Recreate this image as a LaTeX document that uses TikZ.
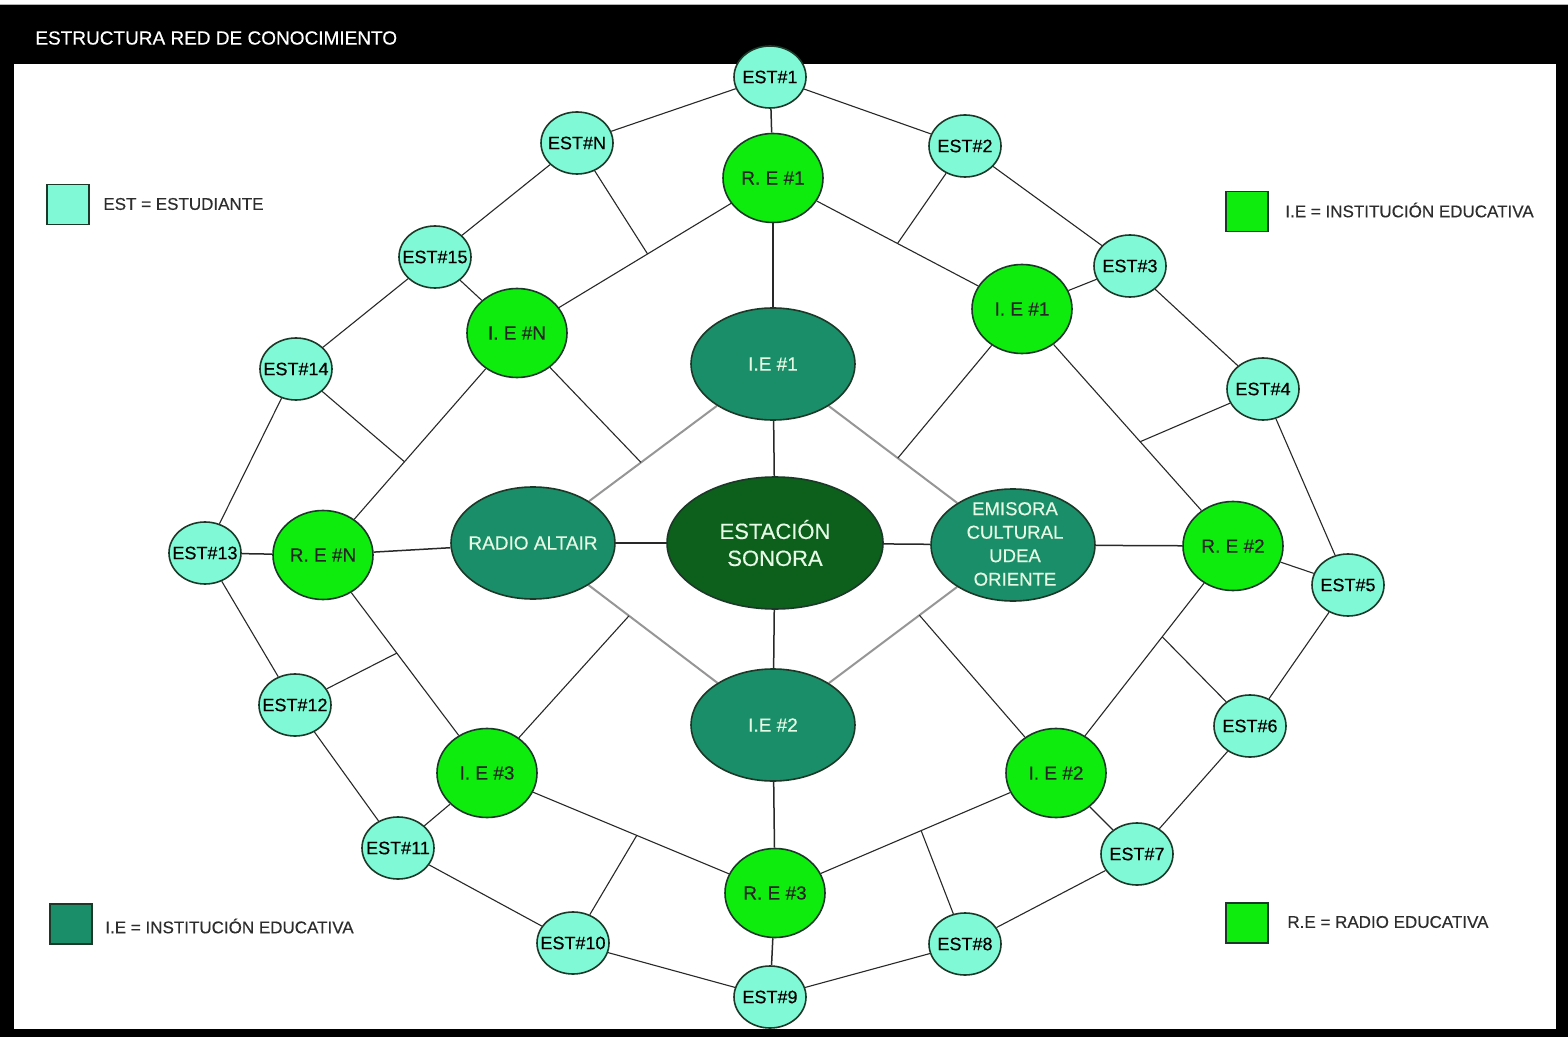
\documentclass[tikz,border=0pt]{standalone}
\usepackage{fontspec}
\setmainfont{Liberation Sans}
\newfontfamily\semib[FakeBold=0.35]{Liberation Sans}
\usetikzlibrary{shapes.geometric,calc}
\definecolor{estc}{RGB}{128,250,214}
\definecolor{grc}{RGB}{14,236,14}
\definecolor{tlc}{RGB}{26,142,104}
\definecolor{dkc}{RGB}{12,96,28}
\definecolor{bdc}{RGB}{28,56,40}
\definecolor{ctx}{RGB}{230,250,230}
\definecolor{lgt}{RGB}{45,45,45}
\definecolor{gline}{RGB}{150,150,150}
\definecolor{kline}{RGB}{40,40,40}
\newcommand\zw[1]{\makebox[0pt]{#1}}
\pgfdeclarelayer{backlayer}
\pgfdeclarelayer{edgelayer}
\pgfsetlayers{backlayer,edgelayer,main}
\begin{document}
\begin{tikzpicture}[x=0.5pt,y=-0.5pt,
  estnode/.style={ellipse,draw=bdc,line width=0.8pt,fill=estc,minimum width=36pt,minimum height=31pt,inner sep=0pt,font=\semib\fontsize{9}{10}\selectfont,text=black},
  grnode/.style={ellipse,draw=bdc,line width=0.8pt,fill=grc,minimum width=50pt,minimum height=44.5pt,inner sep=0pt,font=\semib\fontsize{9.5}{11}\selectfont,text=black!85},
  tlnode/.style={ellipse,draw=bdc,line width=0.8pt,fill=tlc,minimum width=82pt,minimum height=56pt,inner sep=0pt,font=\semib\fontsize{9.5}{11}\selectfont,text=ctx},
  cenode/.style={ellipse,draw=bdc,line width=0.8pt,fill=dkc,minimum width=108pt,minimum height=66pt,inner sep=0pt},
  ctext/.style={align=center,inner sep=0pt,text=ctx},
  legsq/.style={rectangle,draw=bdc,line width=0.8pt,minimum width=21pt,minimum height=20pt,inner sep=0pt},
  legtx/.style={anchor=west,inner sep=0pt,text=lgt,font=\semib\fontsize{8.5}{10}\selectfont},
  thinl/.style={draw=kline,line width=0.55pt},
  spokel/.style={draw=kline,line width=0.75pt},
  greyl/.style={draw=gline,line width=1pt}]
\useasboundingbox (0,0) rectangle (1568,1037);
\begin{pgfonlayer}{backlayer}
  \fill[white] (0,0) rectangle (1568,1037);
  \fill[black] (0,5) rectangle (1568,1037);
  \draw[gray!60,line width=0.5pt] (0,4.5) -- (1568,4.5);
  \fill[white] (14,64) rectangle (1556,1029);
\end{pgfonlayer}
\node[anchor=west,inner sep=0pt,text=white,font=\semib\fontsize{9.5}{11}\selectfont] (title) at (35,38) {ESTRUCTURA RED DE CONOCIMIENTO};
% legends
\node[legsq,fill=estc] (lg1) at (68,204.5) {};
\node[legtx] (lg1t) at (103,204) {EST = ESTUDIANTE};
\node[legsq,fill=grc] (lg2) at (1247,211.5) {};
\node[legtx] (lg2t) at (1285,210) {I.E = INSTITUCIÓN EDUCATIVA};
\node[legsq,fill=tlc] (lg3) at (71,924) {};
\node[legtx] (lg3t) at (105,926) {I.E = INSTITUCIÓN EDUCATIVA};
\node[legsq,fill=grc] (lg4) at (1247,923) {};
\node[legtx] (lg4t) at (1287,922) {R.E = RADIO EDUCATIVA};
% center
\node[cenode] (est) at (775,543) {};
\node[ctext,font=\semib\fontsize{11}{13.5}\selectfont] (estt) at (est) {ESTACIÓN\\SONORA};
\node[tlnode] (tie1) at (773,364) {\zw{I.E \#1}};
\node[tlnode] (tie2) at (773,725) {\zw{I.E \#2}};
\node[tlnode] (alt) at (533,543) {\zw{RADIO ALTAIR}};
\node[tlnode] (emi) at (1013,545) {};
\node[ctext,font=\semib\fontsize{9.3}{11.75}\selectfont] (emit) at (1015,544) {EMISORA\\CULTURAL\\UDEA\\ORIENTE};
% green
\node[grnode] (re1) at (773,178) {\zw{R. E \#1}};
\node[grnode] (gie1) at (1022,309) {\zw{I. E \#1}};
\node[grnode] (re2) at (1233,546) {\zw{R. E \#2}};
\node[grnode] (gie2) at (1056,773) {\zw{I. E \#2}};
\node[grnode] (re3) at (775,893) {\zw{R. E \#3}};
\node[grnode] (gie3) at (487,773) {\zw{I. E \#3}};
\node[grnode] (reN) at (323,555) {\zw{R. E \#N}};
\node[grnode] (gieN) at (517,333) {\zw{I. E \#N}};
% students
\node[estnode] (e1) at (770,77) {\zw{EST\#1}};
\node[estnode] (e2) at (965,146) {\zw{EST\#2}};
\node[estnode] (e3) at (1130,266) {\zw{EST\#3}};
\node[estnode] (e4) at (1263,389) {\zw{EST\#4}};
\node[estnode] (e5) at (1348,585) {\zw{EST\#5}};
\node[estnode] (e6) at (1250,726) {\zw{EST\#6}};
\node[estnode] (e7) at (1137,854) {\zw{EST\#7}};
\node[estnode] (e8) at (965,944) {\zw{EST\#8}};
\node[estnode] (e9) at (770,997) {\zw{EST\#9}};
\node[estnode] (e10) at (573,943) {\zw{EST\#10}};
\node[estnode] (e11) at (398,848) {\zw{EST\#11}};
\node[estnode] (e12) at (295,705) {\zw{EST\#12}};
\node[estnode] (e13) at (205,553) {\zw{EST\#13}};
\node[estnode] (e14) at (296,369) {\zw{EST\#14}};
\node[estnode] (e15) at (435,257) {\zw{EST\#15}};
\node[estnode] (eN) at (577,143) {\zw{EST\#N}};
% junction points
\coordinate (sN) at ($(gieN)!0.51!(re1)$);
\coordinate (s2) at ($(re1)!0.50!(gie1)$);
\coordinate (s4) at ($(gie1)!0.56!(re2)$);
\coordinate (s6) at ($(re2)!0.40!(gie2)$);
\coordinate (s8) at ($(gie2)!0.48!(re3)$);
\coordinate (s10) at ($(re3)!0.48!(gie3)$);
\coordinate (s12) at ($(gie3)!0.55!(reN)$);
\coordinate (s14) at ($(reN)!0.42!(gieN)$);
\coordinate (gN) at ($(tie1)!0.55!(alt)$);
\coordinate (g1) at ($(tie1)!0.52!(emi)$);
\coordinate (g2) at ($(emi)!0.39!(tie2)$);
\coordinate (g3) at ($(alt)!0.40!(tie2)$);
\begin{pgfonlayer}{edgelayer}
  % outer ring
  \draw[thinl] (e1) -- (e2);
  \draw[thinl] (e2) -- (e3);
  \draw[thinl] (e3) -- (e4);
  \draw[thinl] (e4) -- (e5);
  \draw[thinl] (e5) -- (e6);
  \draw[thinl] (e6) -- (e7);
  \draw[thinl] (e7) -- (e8);
  \draw[thinl] (e8) -- (e9);
  \draw[thinl] (e9) -- (e10);
  \draw[thinl] (e10) -- (e11);
  \draw[thinl] (e11) -- (e12);
  \draw[thinl] (e12) -- (e13);
  \draw[thinl] (e13) -- (e14);
  \draw[thinl] (e14) -- (e15);
  \draw[thinl] (e15) -- (eN);
  \draw[thinl] (eN) -- (e1);
  % green ring
  \draw[thinl] (re1) -- (gie1);
  \draw[thinl] (gie1) -- (re2);
  \draw[thinl] (re2) -- (gie2);
  \draw[thinl] (gie2) -- (re3);
  \draw[thinl] (re3) -- (gie3);
  \draw[thinl] (gie3) -- (reN);
  \draw[thinl] (reN) -- (gieN);
  \draw[thinl] (gieN) -- (re1);
  % students to green nodes
  \draw[thinl] (e3) -- (gie1);
  \draw[thinl] (e5) -- (re2);
  \draw[thinl] (e7) -- (gie2);
  \draw[thinl] (e11) -- (gie3);
  \draw[thinl] (e15) -- (gieN);
  % student spurs
  \draw[thinl] (eN) -- (sN);
  \draw[thinl] (e2) -- (s2);
  \draw[thinl] (e4) -- (s4);
  \draw[thinl] (e6) -- (s6);
  \draw[thinl] (e8) -- (s8);
  \draw[thinl] (e10) -- (s10);
  \draw[thinl] (e12) -- (s12);
  \draw[thinl] (e14) -- (s14);
  % spokes
  \draw[spokel] (e1) -- (re1);
  \draw[spokel] (re1) -- (tie1);
  \draw[spokel] (tie1) -- (est);
  \draw[spokel] (est) -- (tie2);
  \draw[spokel] (tie2) -- (re3);
  \draw[spokel] (re3) -- (e9);
  \draw[spokel] (e13) -- (reN);
  \draw[spokel] (reN) -- (alt);
  \draw[spokel] (alt) -- (est);
  \draw[spokel] (est) -- (emi);
  \draw[spokel] (emi) -- (re2);
  % grey diamond
  \draw[greyl] (tie1) -- (alt);
  \draw[greyl] (tie1) -- (emi);
  \draw[greyl] (alt) -- (tie2);
  \draw[greyl] (emi) -- (tie2);
  % green spurs to grey lines
  \draw[thinl] (gieN) -- (gN);
  \draw[thinl] (gie1) -- (g1);
  \draw[thinl] (gie2) -- (g2);
  \draw[thinl] (gie3) -- (g3);
\end{pgfonlayer}
\end{tikzpicture}
\end{document}
